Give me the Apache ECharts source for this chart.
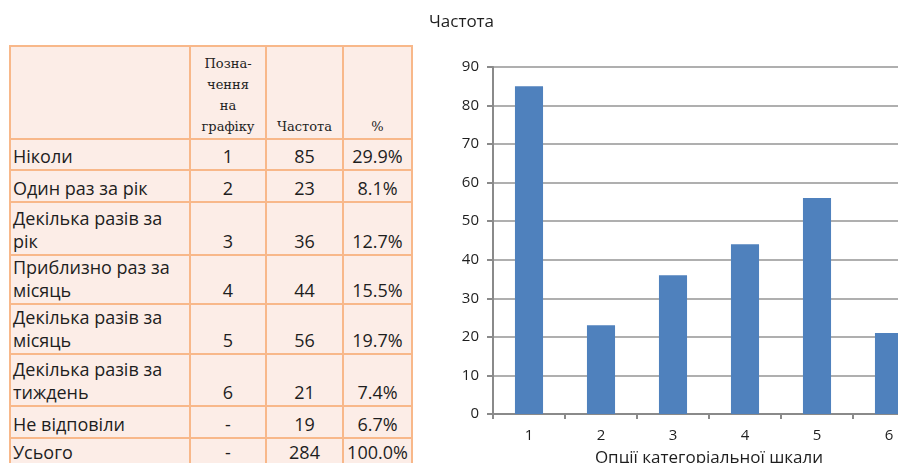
<!DOCTYPE html>
<html>
<head>
<meta charset="utf-8">
<script src="https://cdn.jsdelivr.net/npm/echarts@6/dist/echarts.min.js"></script>
<style>
  html, body { margin: 0; padding: 0; background: #fff; }
  #wrap { position: relative; width: 898px; height: 463px; overflow: hidden; }
  #chart { position: absolute; left: 0; top: 0; width: 926px; height: 463px; }
  #tbl {
    position: absolute; left: 9px; top: 45px;
    border-collapse: collapse; background: #fcede7;
    font-family: "Open Sans", Lato, sans-serif; font-size: 18px; color: #1e1e1e;
    table-layout: fixed;
  }
  #tbl td {
    border: 2px solid #f8b88a; padding: 0 2px 1px 2px;
    vertical-align: bottom; line-height: 23px; box-sizing: border-box;
  }
  #tbl td.l { padding-right: 14px; }
  #tbl td.c { text-align: center; }
  #tbl td.h { font-family: "DejaVu Serif", "Liberation Serif", serif; font-size: 13px; line-height: 21px; text-align: center; color: #222; }
</style>
</head>
<body>
<div id="wrap">
  <div id="chart"></div>
  <table id="tbl"></table>
</div>
<script>
// table data
const headers = ['', 'Позна-<br>чення<br>на<br>графіку', 'Частота', '%']
const rowLabels = ['Ніколи', 'Один раз за рік', 'Декілька разів за рік', 'Приблизно раз за місяць',
  'Декілька разів за місяць', 'Декілька разів за тиждень', 'Не відповіли', 'Усього']
const marks = ['1', '2', '3', '4', '5', '6', '-', '-']
const freqs = [85, 23, 36, 44, 56, 21, 19, 284]
const percents = ['29.9%', '8.1%', '12.7%', '15.5%', '19.7%', '7.4%', '6.7%', '100.0%']
const rowHeights = [31, 32, 53, 49, 50, 52, 32, 28]

// chart data
const categories = ['1', '2', '3', '4', '5', '6']
const values = [85, 23, 36, 44, 56, 21]

const colWidths = [180, 76, 77, 69]

const buildTable = () => {
  const tbl = document.getElementById('tbl')
  let html = '<colgroup>' + colWidths.map(w => `<col style="width:${w}px">`).join('') + '</colgroup>'
  html += '<tr style="height:93px">'
  headers.forEach(h => {
    html += `<td class="h">${h}</td>`
  })
  html += '</tr>'
  rowLabels.forEach((label, i) => {
    html += `<tr style="height:${rowHeights[i]}px">` +
      `<td class="l">${label}</td>` +
      `<td class="c">${marks[i]}</td>` +
      `<td class="c">${freqs[i]}</td>` +
      `<td class="c">${percents[i]}</td></tr>`
  })
  tbl.innerHTML = html
}

buildTable()

const chart = echarts.init(document.getElementById('chart'))

const axisGray = '#8a8a8a'
const font = 'Open Sans'

chart.setOption({
  animation: false,
  title: {
    text: 'Частота',
    left: 424,
    top: 9,
    textStyle: { fontFamily: font, fontSize: 17, fontWeight: 'normal', color: '#1e1e1e' }
  },
  grid: { left: 493, right: 1, top: 67, bottom: 49, outerBoundsMode: 'none' },
  xAxis: {
    type: 'category',
    data: categories,
    axisLine: { lineStyle: { color: axisGray, width: 2 } },
    axisTick: { show: true, length: 5, lineStyle: { color: axisGray, width: 2 } },
    axisLabel: { margin: 14, fontFamily: font, fontSize: 15, color: '#1e1e1e' },
    name: 'Опції категоріальної шкали',
    nameLocation: 'middle',
    nameGap: 36,
    nameTextStyle: { fontFamily: font, fontSize: 17, color: '#1e1e1e' }
  },
  yAxis: {
    type: 'value',
    min: 0,
    max: 90,
    interval: 10,
    axisLine: { show: true, lineStyle: { color: axisGray, width: 2 } },
    axisTick: { show: true, length: 6, lineStyle: { color: axisGray, width: 2 } },
    axisLabel: { margin: 14, fontFamily: font, fontSize: 15, color: '#1e1e1e' },
    splitLine: { lineStyle: { color: '#959595', width: 1.5 } }
  },
  series: [
    {
      name: 'Частота',
      type: 'bar',
      data: values,
      barWidth: '39%',
      itemStyle: { color: '#4f81bd' }
    }
  ]
})
</script>
</body>
</html>
